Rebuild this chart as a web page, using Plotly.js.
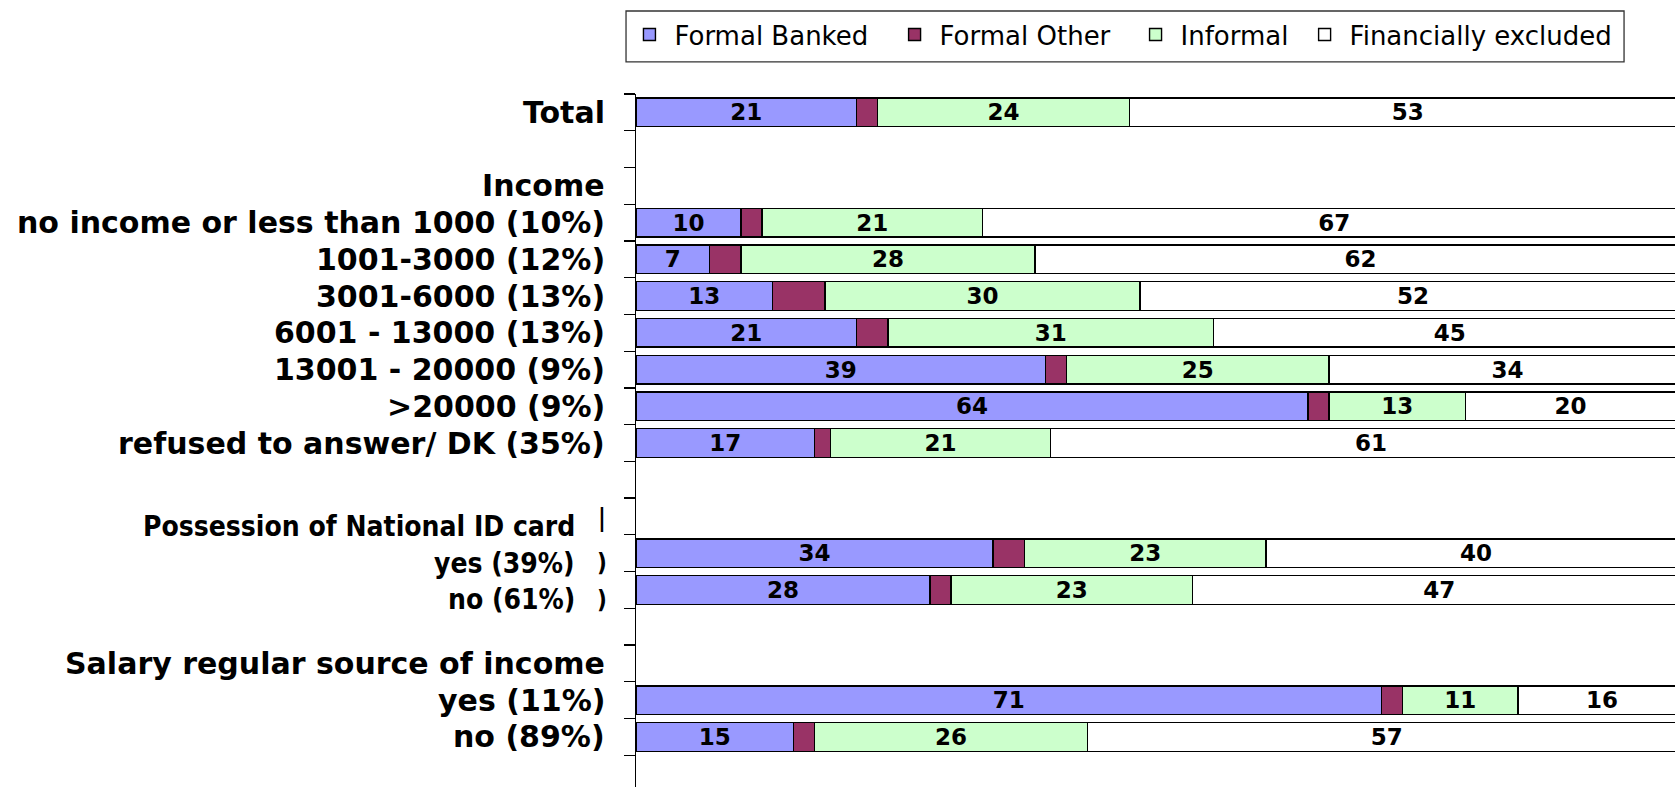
<!DOCTYPE html>
<html>
<head>
<meta charset="utf-8">
<script src="https://cdn.plot.ly/plotly-3.0.1.min.js"></script>
<style>
  html, body { margin: 0; padding: 0; overflow: hidden; background: #ffffff; }
  #chart { width: 1686px; height: 792px; }
</style>
</head>
<body>
<div id="chart"></div>
<script>
// Row order, top to bottom. Spacer rows keep the gaps between groups.
const rows = [
  "Total",
  "spacer-1",
  "Income",
  "no income or less than 1000 (10%)",
  "1001-3000 (12%)",
  "3001-6000 (13%)",
  "6001 - 13000 (13%)",
  "13001 - 20000 (9%)",
  ">20000 (9%)",
  "refused to answer/ DK (35%)",
  "spacer-2",
  "Possession of National ID card",
  "yes (39%)",
  "no (61%)",
  "spacer-3",
  "Salary regular source of income",
  "yes (11%)",
  "no (89%)",
  "spacer-4"
];

// Rows that carry a bar
const barRows = [
  "Total",
  "no income or less than 1000 (10%)",
  "1001-3000 (12%)",
  "3001-6000 (13%)",
  "6001 - 13000 (13%)",
  "13001 - 20000 (9%)",
  ">20000 (9%)",
  "refused to answer/ DK (35%)",
  "yes (39%)",
  "no (61%)",
  "yes (11%)",
  "no (89%)"
];

// Shares of each group (%)
const formalBanked = [21, 10, 7, 13, 21, 39, 64, 17, 34, 28, 71, 15];
const formalOther  = [2, 2, 3, 5, 3, 2, 2, 1.5, 3, 2, 2, 2];
const informal     = [24, 21, 28, 30, 31, 25, 13, 21, 23, 23, 11, 26];
const excluded     = [53, 67, 62, 52, 45, 34, 20, 61, 40, 47, 16, 57];

const seriesNames = ["Formal Banked", "Formal Other", "Informal", "Financially excluded"];

// Row labels drawn in the narrower block
const idCardRows = ["Possession of National ID card", "yes (39%)", "no (61%)"];

const colors = ["#9999FF", "#993366", "#CCFFCC", "#FFFFFF"];
const labelFont = { family: "DejaVu Sans, Verdana, sans-serif", size: 23, color: "#000000", weight: 700 };

function barTrace(values, idx, showText) {
  return {
    type: "bar",
    orientation: "h",
    name: seriesNames[idx],
    y: barRows,
    x: values,
    legend: idx === 0 ? "legend" : "legend" + (idx + 1),
    marker: { color: colors[idx], line: { color: "#000000", width: 1.4 } },
    text: showText ? values.map(String) : null,
    textposition: showText ? "inside" : "none",
    insidetextanchor: "middle",
    textangle: 0,
    constraintext: "none",
    insidetextfont: labelFont,
    hoverinfo: "x+name"
  };
}

const traces = [
  barTrace(formalBanked, 0, true),
  barTrace(formalOther, 1, false),
  barTrace(informal, 2, true),
  barTrace(excluded, 3, true)
];

// Category labels on the left, right-aligned against the axis
const annotations = [];
rows.forEach(function (r, i) {
  if (r.indexOf("spacer") === 0) return;
  const small = idCardRows.indexOf(r) >= 0;
  annotations.push({
    xref: "paper", x: 0, xanchor: "right",
    xshift: small ? -59 : -29,
    yref: "y", y: i, yanchor: "middle",
    yshift: small ? -10 : 0,
    text: r.replace(/>/g, "&gt;"),
    showarrow: false,
    font: {
      family: small ? "DejaVu Sans Condensed, DejaVu Sans, sans-serif" : "DejaVu Sans, Verdana, sans-serif",
      size: small ? 28 : 30,
      color: "#000000",
      weight: 700
    }
  });
});

// Clipped glyph fragments beside the ID card block
[["|", 11, -2], [")", 12, -10], [")", 13, -10]].forEach(function (g) {
  annotations.push({
    xref: "paper", x: 0, xanchor: "center", xshift: -34,
    yref: "y", y: g[1], yanchor: "middle", yshift: g[2],
    text: g[0], showarrow: false,
    font: { family: "DejaVu Sans Condensed, DejaVu Sans, sans-serif", size: 24, color: "#000000", weight: 700 }
  });
});

// One legend per series so every entry sits in its own slot inside a shared frame
const legendFont = { family: "DejaVu Sans, Verdana, sans-serif", size: 26, color: "#000000" };
function legendAt(x) {
  return {
    x: x, xanchor: "left", y: 1.085, yanchor: "middle",
    orientation: "h", bgcolor: "rgba(0,0,0,0)", borderwidth: 0,
    itemwidth: 40,
    font: legendFont, itemclick: false, itemdoubleclick: false
  };
}

const layout = {
  width: 1686,
  height: 792,
  margin: { l: 636, r: 0, t: 94, b: 0, pad: 0 },
  paper_bgcolor: "#ffffff",
  plot_bgcolor: "#ffffff",
  barmode: "stack",
  bargap: 0.22,
  xaxis: {
    range: [0, 100],
    visible: false,
    showgrid: false,
    zeroline: false
  },
  yaxis: {
    type: "category",
    categoryorder: "array",
    categoryarray: rows,
    range: [rows.length - 0.5, -0.5],
    showticklabels: false,
    showgrid: false,
    zeroline: false,
    showline: true,
    linecolor: "#000000",
    linewidth: 1.3,
    ticks: "outside",
    tickson: "boundaries",
    ticklen: 11,
    tickwidth: 1.3,
    tickcolor: "#000000"
  },
  legend: legendAt(-0.011),
  legend2: legendAt(0.2415),
  legend3: legendAt(0.471),
  legend4: legendAt(0.632),
  shapes: [{
    type: "rect",
    xref: "paper", yref: "paper",
    x0: -0.0095, x1: 0.941,
    y0: 1.0459, y1: 1.1189,
    line: { color: "#333333", width: 1.3 },
    fillcolor: "rgba(0,0,0,0)",
    layer: "below"
  }],
  annotations: annotations,
  showlegend: true
};

Plotly.newPlot("chart", traces, layout, { displayModeBar: false, staticPlot: true });
</script>
</body>
</html>
